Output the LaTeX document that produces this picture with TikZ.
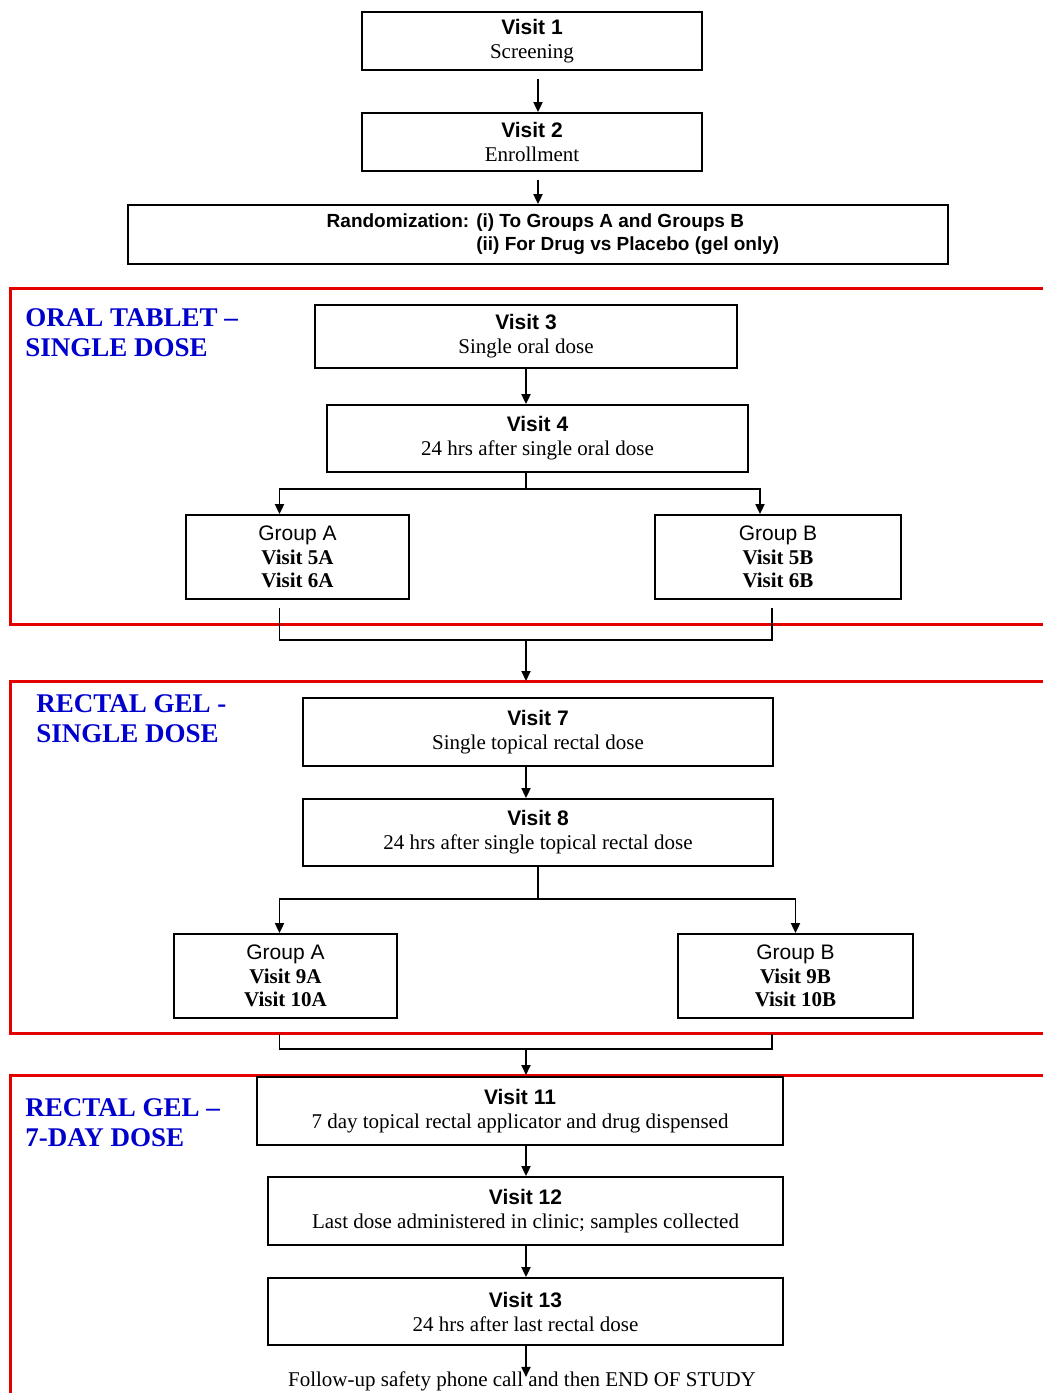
\documentclass[tikz,border=0pt]{standalone}
\usepackage{fontspec}
\setmainfont{Liberation Serif}
\setsansfont{Liberation Sans}
\usepackage{tikz}
\usetikzlibrary{arrows.meta}

\newcommand{\vhead}[1]{{\sffamily\bfseries #1}}
\newcommand{\ghead}[1]{{\sffamily #1}}

\begin{document}
\begin{tikzpicture}[x=0.5pt,y=-0.5pt,
  visitbox/.style={draw,line width=0.9pt,align=center,inner sep=0pt,font=\fontsize{10.5}{12}\selectfont},
  groupbox/.style={draw,line width=0.9pt,align=center,inner sep=0pt,minimum height=42pt,font=\fontsize{10.5}{11.8}\selectfont},
  frame/.style={red!90!black,line width=1.5pt},
  phase/.style={text=blue!80!black,anchor=north west,align=left,inner sep=0pt,font=\bfseries\fontsize{13.5}{15}\selectfont},
  flow/.style={-{Triangle[length=5pt,width=4.5pt]},line width=0.9pt},
  link/.style={line width=0.9pt}]
  \useasboundingbox (0,0) rectangle (1043,1393);
  \clip (0,0) rectangle (1043,1393);

  % red phase frames (open to the right)
  \draw[frame] (1060,288) -| (10,624) -- (1060,624);
  \draw[frame] (1060,681) -| (10,1033) -- (1060,1033);
  \draw[frame] (1060,1075) -| (10,1410);

  \node[phase] (ph1) at (25,308) {ORAL TABLET --\\SINGLE DOSE};
  \node[phase] (ph2) at (36,694) {RECTAL GEL -\\SINGLE DOSE};
  \node[phase] (ph3) at (25,1098) {RECTAL GEL --\\7-DAY DOSE};

  % screening and randomization
  \node[visitbox,minimum width=170pt,minimum height=29pt] (v1) at (532,41) {\vhead{Visit 1}\\Screening};
  \node[visitbox,minimum width=170pt,minimum height=29pt] (v2) at (532,142) {\vhead{Visit 2}\\Enrollment};
  \node[visitbox,minimum width=410pt,minimum height=29.5pt] (rand) at (538,234.5) {};
  \node[inner sep=0pt,font=\sffamily\bfseries\fontsize{9.5}{11.5}\selectfont] (randtxt) at (553,234)
    {\begin{tabular}{@{}r@{ }l@{}}Randomization: & (i) To Groups A and Groups B\\ & (ii) For Drug vs Placebo (gel only)\end{tabular}};

  % oral tablet
  \node[visitbox,minimum width=211pt,minimum height=31.5pt] (v3) at (526,336.5) {\vhead{Visit 3}\\Single oral dose};
  \node[visitbox,minimum width=210.5pt,minimum height=33.5pt] (v4) at (537.5,438.5) {\vhead{Visit 4}\\24 hrs after single oral dose};
  \node[groupbox,minimum width=111.5pt] (ga1) at (297.5,557) {\ghead{Group A}\\\textbf{Visit 5A}\\\textbf{Visit 6A}};
  \node[groupbox,minimum width=123pt] (gb1) at (778,557) {\ghead{Group B}\\\textbf{Visit 5B}\\\textbf{Visit 6B}};

  % rectal gel, single dose
  \node[visitbox,minimum width=235pt,minimum height=34pt] (v7) at (538,732) {\vhead{Visit 7}\\Single topical rectal dose};
  \node[visitbox,minimum width=235pt,minimum height=33.5pt] (v8) at (538,832.5) {\vhead{Visit 8}\\24 hrs after single topical rectal dose};
  \node[groupbox,minimum width=111.5pt] (ga2) at (285.5,976) {\ghead{Group A}\\\textbf{Visit 9A}\\\textbf{Visit 10A}};
  \node[groupbox,minimum width=117.5pt] (gb2) at (795.5,976) {\ghead{Group B}\\\textbf{Visit 9B}\\\textbf{Visit 10B}};

  % rectal gel, 7 days
  \node[visitbox,minimum width=263pt,minimum height=34pt] (v11) at (520,1111) {\vhead{Visit 11}\\7 day topical rectal applicator and drug dispensed};
  \node[visitbox,minimum width=257.5pt,minimum height=34pt] (v12) at (525.5,1211) {\vhead{Visit 12}\\Last dose administered in clinic; samples collected};
  \node[visitbox,minimum width=257.5pt,minimum height=33.5pt] (v13) at (525.5,1311.5) {\vhead{Visit 13}\\24 hrs after last rectal dose};
  \node[inner sep=1pt,font=\fontsize{10.5}{12}\selectfont] (endtxt) at (522,1381) {Follow-up safety phone call and then END OF STUDY};

  \coordinate (s1) at (526,489);
  \coordinate (j1) at (526,640);
  \coordinate (f2) at (10,681);
  \coordinate (s2) at (538,899);
  \coordinate (j2) at (526,1049);
  \coordinate (f3) at (10,1075);

  \draw[flow,shorten <=4pt] ([xshift=3pt]v1.south) -- ([xshift=3pt]v2.north);
  \draw[flow,shorten <=4pt] ([xshift=3pt]v2.south) -- (rand.north);
  \draw[flow] (v3.south) -- (v3.south |- v4.north);

  \draw[link] (v4.south -| s1) -- (s1);
  \draw[flow] (s1) -| ([xshift=-9pt]ga1.north);
  \draw[flow] (s1) -| ([xshift=-9pt]gb1.north);
  \draw[link] ([xshift=-9pt,yshift=-4pt]ga1.south) |- (j1) -| ([xshift=-3pt,yshift=-4pt]gb1.south);
  \draw[flow] (j1) -- (j1 |- f2);

  \draw[flow] (v7.south -| j1) -- (v8.north -| j1);
  \draw[link] (v8.south) -- (s2);
  \draw[flow] (s2) -| ([xshift=-3pt]ga2.north);
  \draw[flow] (s2) -| (gb2.north);
  \draw[link] ([xshift=-3pt,yshift=-7.5pt]ga2.south) |- (j2) -| ([xshift=-11.75pt,yshift=-7.5pt]gb2.south);
  \draw[flow] (j2) -- (j2 |- f3);

  \draw[flow] (v11.south -| j2) -- (v12.north -| j2);
  \draw[flow] (v12.south -| j2) -- (v13.north -| j2);
  \draw[flow,shorten >=-4pt] (v13.south -| j2) -- (endtxt.north -| j2);
\end{tikzpicture}
\end{document}
